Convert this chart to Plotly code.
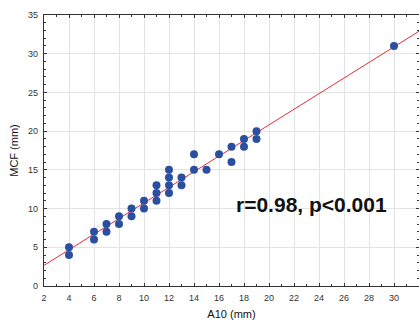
import numpy as np
import plotly.graph_objects as go

a10 = [4, 4, 6, 6, 7, 7, 8, 8, 9, 9, 10, 10, 11, 11, 11, 12, 12, 12, 12, 13, 13,
       14, 14, 15, 16, 17, 17, 18, 18, 19, 19, 30]
mcf = [5, 4, 7, 6, 8, 7, 9, 8, 10, 9, 11, 10, 13, 12, 11, 15, 14, 13, 12, 14, 13,
       17, 15, 15, 17, 18, 16, 19, 18, 20, 19, 31]
x_range = [2, 32]
y_range = [0, 35]
x_ticks = [2, 4, 6, 8, 10, 12, 14, 16, 18, 20, 22, 24, 26, 28, 30, 32]
y_ticks = [0, 5, 10, 15, 20, 25, 30, 35]
label = "r=0.98, p<0.001"

slope, intercept = np.polyfit(a10, mcf, 1)
line_x = np.array(x_range, dtype=float)
line_y = intercept + slope * line_x

fig = go.Figure()
fig.add_trace(go.Scatter(x=line_x, y=line_y, mode="lines",
                         line=dict(color="#ee2b35", width=1), hoverinfo="skip"))
fig.add_trace(go.Scatter(x=a10, y=mcf, mode="markers",
                         marker=dict(color="#2b4fa0", size=8, line=dict(width=0))))

fig.add_annotation(x=23.4, y=10.5, text="<b>" + label + "</b>", showarrow=False,
                   font=dict(family="Liberation Sans, Arial", size=21, color="#111"))

axis_common = dict(
    automargin=False,
    showgrid=True, gridcolor="#e3e3e3", gridwidth=1.2,
    showline=True, linecolor="#333", linewidth=1.2, mirror="allticks",
    ticks="inside", ticklen=3, tickcolor="#333", tickwidth=1,
    zeroline=False,
    tickfont=dict(family="Liberation Sans, Arial", size=9, color="#333"),
    minor=dict(ticks="inside", ticklen=2, tickcolor="#333", dtick=1, showgrid=False),
)

fig.update_xaxes(range=x_range, tickvals=x_ticks, ticktext=[str(v) for v in x_ticks],
                 ticklabelstandoff=3,
                 title=dict(text="A10 (mm)", font=dict(family="Liberation Sans, Arial", size=11, color="#111"), standoff=8),
                 **axis_common)
fig.update_yaxes(range=y_range, tickvals=y_ticks, ticktext=[str(v) for v in y_ticks],
                 ticklabelstandoff=3,
                 title=dict(text="MCF (mm)", font=dict(family="Liberation Sans, Arial", size=11, color="#111"), standoff=7),
                 **axis_common)

fig.update_layout(width=419, height=322, margin=dict(l=44, r=0, t=15, b=36),
                  plot_bgcolor="white", paper_bgcolor="white", showlegend=False)

fig.write_html("out.html", config={"displayModeBar": False},
               post_script="document.body.style.margin='0';document.body.style.overflow='hidden';")
